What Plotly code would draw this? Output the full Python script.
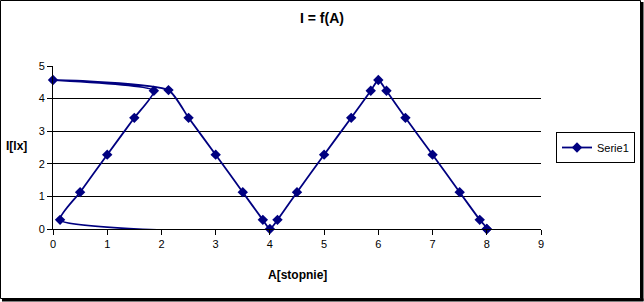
import plotly.graph_objects as go

# Data in the order the series was plotted (scatter with smoothed line)
A_values = [8, 0.13, 0.5, 1, 1.5, 1.86, 0, 2.13, 2.5, 3, 3.5, 3.87, 4, 4.14,
            4.5, 5, 5.5, 5.86, 6, 6.15, 6.5, 7, 7.5, 7.87, 8]
I_values = [0, 0.28, 1.13, 2.28, 3.41, 4.24, 4.57, 4.26, 3.41, 2.28, 1.13, 0.28, 0, 0.28,
            1.13, 2.28, 3.41, 4.24, 4.57, 4.24, 3.41, 2.28, 1.13, 0.28, 0]
series_name = "Serie1"
x_ticks = [0, 1, 2, 3, 4, 5, 6, 7, 8, 9]
y_ticks = [0, 1, 2, 3, 4, 5]

FONT = "Liberation Sans, Arial, sans-serif"
NAVY = "#000080"

fig = go.Figure()
fig.add_trace(go.Scatter(
    x=A_values, y=I_values, name=series_name, mode="lines+markers",
    line=dict(color=NAVY, width=1.8, shape="spline", smoothing=0.55),
    marker=dict(symbol="diamond", size=8, color=NAVY),
    cliponaxis=False,
))

W, H = 644, 302
L, R, T, B = 53, 541, 66, 229

def px2paper_x(px):
    return (px - L) / (R - L)

def px2paper_y(py):
    return (B - py) / (B - T)

fig.update_layout(
    width=W, height=H,
    margin=dict(l=L, r=W - R, t=T, b=H - B, pad=0, autoexpand=False),
    paper_bgcolor="white", plot_bgcolor="white",
    font=dict(family=FONT, size=11, color="black"),
    title=dict(text="<b>I = f(A)</b>", x=0.5, xref="container", xanchor="center",
               y=1 - 18 / H, yref="container", yanchor="middle",
               font=dict(family=FONT, size=14, color="black")),
    showlegend=True,
    legend=dict(x=px2paper_x(635), xanchor="right", y=px2paper_y(147.5), yanchor="middle",
                bordercolor="black", borderwidth=1, bgcolor="white", itemwidth=30,
                font=dict(family=FONT, size=11, color="black")),
    xaxis=dict(range=[0, 9], tickvals=x_ticks, showgrid=False, zeroline=False,
               showline=True, linecolor="black", linewidth=1,
               ticks="outside", ticklen=5, tickcolor="black", tickwidth=1,
               tickfont=dict(family=FONT, size=11, color="black")),
    yaxis=dict(range=[0, 5], tickvals=y_ticks, showgrid=True, gridcolor="black", gridwidth=1,
               zeroline=False, showline=True, linecolor="black", linewidth=1,
               ticks="outside", ticklen=5, tickcolor="black", tickwidth=1,
               tickfont=dict(family=FONT, size=11, color="black")),
)

# axis titles
fig.add_annotation(text="<b>A[stopnie]</b>", xref="paper", yref="paper",
                   x=0.5, y=px2paper_y(275), xanchor="center", yanchor="middle",
                   showarrow=False, font=dict(family=FONT, size=12, color="black"))
fig.add_annotation(text="<b>I[lx]</b>", xref="paper", yref="paper",
                   x=px2paper_x(16), y=px2paper_y(146), xanchor="center", yanchor="middle",
                   showarrow=False, font=dict(family=FONT, size=12, color="black"))

# chart area border (thin left/top, thicker right/bottom shadow)
fig.add_shape(type="rect", xref="paper", yref="paper",
              x0=px2paper_x(0.5), x1=px2paper_x(640.5), y0=px2paper_y(0.5), y1=px2paper_y(298.5),
              line=dict(color="black", width=1), layer="above")
fig.add_shape(type="line", xref="paper", yref="paper",
              x0=px2paper_x(642), x1=px2paper_x(642), y0=px2paper_y(2), y1=px2paper_y(301),
              line=dict(color="black", width=3), layer="above")
fig.add_shape(type="line", xref="paper", yref="paper",
              x0=px2paper_x(2), x1=px2paper_x(643.5), y0=px2paper_y(300), y1=px2paper_y(300),
              line=dict(color="black", width=3), layer="above")

fig.write_html("out.html")
